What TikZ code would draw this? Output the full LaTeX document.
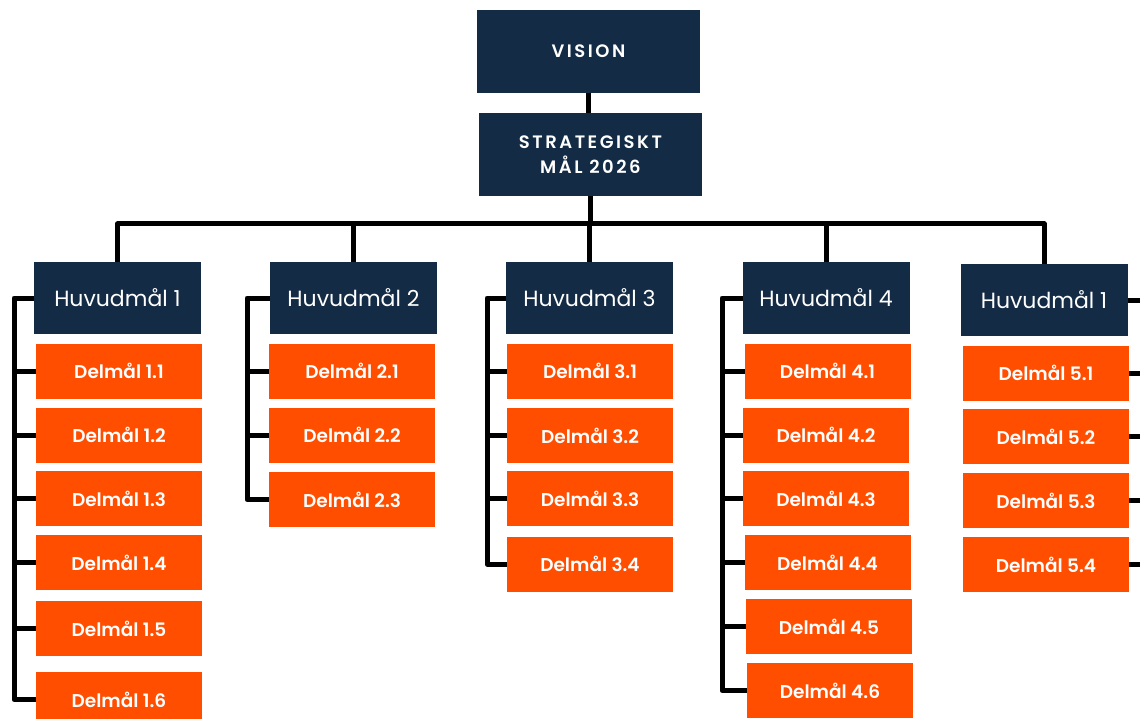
\documentclass[tikz,border=0pt]{standalone}
\usepackage{fontspec}
\setmainfont{Poppins}
\IfFontExistsTF{Poppins SemiBold}{\newfontfamily\subfont{Poppins SemiBold}}{\newfontfamily\subfontx{Poppins}\def\subfont{\subfontx\bfseries}}
\IfFontExistsTF{Poppins SemiBold}{\newfontfamily\capsfont{Poppins SemiBold}[LetterSpace=14]}{\newfontfamily\capsfontx{Poppins}[LetterSpace=14]\def\capsfont{\capsfontx\bfseries}}
\usetikzlibrary{calc}
\definecolor{navy}{HTML}{142B45}
\definecolor{orng}{HTML}{FF4E00}
\tikzset{
  topbox/.style={fill=navy, text=white, minimum width=223pt, minimum height=83pt, inner sep=0pt, outer sep=0pt, align=center, font=\capsfont\fontsize{18}{25}\selectfont},
  mainbox/.style={fill=navy, text=white, minimum width=167pt, minimum height=72pt, inner sep=0pt, outer sep=0pt, font=\fontsize{22}{24}\selectfont},
  subbox/.style={fill=orng, text=white, minimum width=166pt, minimum height=55pt, inner sep=0pt, outer sep=0pt, font=\subfont\fontsize{18.5}{21}\selectfont},
  conn/.style={draw=black, line width=5pt, line join=round}
}
\begin{document}
\begin{tikzpicture}[x=1pt,y=-1pt]
\useasboundingbox (0,0) rectangle (1140,719);
\clip (0,0) rectangle (1140,719);
\fill[white] (0,0) rectangle (1140,719);
% top
\node[topbox] (vision) at (588.5,51.5) {VISION};
\node[topbox] (strat) at (590.5,155) {STRATEGISKT\\MÅL 2026};
% main goals
\node[mainbox] (h1) at (117.5,298) {Huvudmål 1};
\node[mainbox] (h2) at (353.5,298) {Huvudmål 2};
\node[mainbox] (h3) at (589.5,298) {Huvudmål 3};
\node[mainbox] (h4) at (826,298) {Huvudmål 4};
\node[mainbox] (h5) at (1044,300) {Huvudmål 1};
% sub goals 1
\node[subbox] (d11) at (119,371) {Delmål 1.1};
\node[subbox] (d12) at (119,435) {Delmål 1.2};
\node[subbox] (d13) at (119,498.5) {Delmål 1.3};
\node[subbox] (d14) at (119,562.5) {Delmål 1.4};
\node[subbox] (d15) at (119,628.5) {Delmål 1.5};
\node[subbox] (d16) at (119,699.5) {Delmål 1.6};
% 2
\node[subbox] (d21) at (352,371) {Delmål 2.1};
\node[subbox] (d22) at (352,435) {Delmål 2.2};
\node[subbox] (d23) at (352,499.5) {Delmål 2.3};
% 3
\node[subbox] (d31) at (590,371) {Delmål 3.1};
\node[subbox] (d32) at (590,435.5) {Delmål 3.2};
\node[subbox] (d33) at (590,498.5) {Delmål 3.3};
\node[subbox] (d34) at (590,564) {Delmål 3.4};
% 4
\node[subbox] (d41) at (827.5,371) {Delmål 4.1};
\node[subbox] (d42) at (826,435) {Delmål 4.2};
\node[subbox] (d43) at (826,498.5) {Delmål 4.3};
\node[subbox] (d44) at (827.5,562.5) {Delmål 4.4};
\node[subbox] (d45) at (829,626.5) {Delmål 4.5};
\node[subbox] (d46) at (830,690.5) {Delmål 4.6};
% 5
\node[subbox] (d51) at (1046,373) {Delmål 5.1};
\node[subbox] (d52) at (1046,436.5) {Delmål 5.2};
\node[subbox] (d53) at (1046,500.5) {Delmål 5.3};
\node[subbox] (d54) at (1046,564.5) {Delmål 5.4};
% connectors top
\coordinate (bus) at (0,224);
\draw[conn] (vision.south) -- (vision.south |- strat.north);
\foreach \h in {h1,h2,h3,h4,h5}{
  \draw[conn] (strat.south) -- (strat.south |- bus) -| (\h.north);
}
% left brackets
\coordinate (l1) at (14,0);
\coordinate (l2) at (247,0);
\coordinate (l3) at (487,0);
\coordinate (l4) at (722,0);
\coordinate (r5) at (1141,0);
\draw[conn] (h1.west) -- (h1.west -| l1) |- (d16.west);
\foreach \d in {d11,d12,d13,d14,d15}{\draw[conn] (\d.west) -- (\d.west -| l1);}
\draw[conn] (h2.west) -- (h2.west -| l2) |- (d23.west);
\foreach \d in {d21,d22}{\draw[conn] (\d.west) -- (\d.west -| l2);}
\draw[conn] (h3.west) -- (h3.west -| l3) |- (d34.west);
\foreach \d in {d31,d32,d33}{\draw[conn] (\d.west) -- (\d.west -| l3);}
\draw[conn] (h4.west) -- (h4.west -| l4) |- (d46.west);
\foreach \d in {d41,d42,d43,d44,d45}{\draw[conn] (\d.west) -- (\d.west -| l4);}
\foreach \d in {h5,d51,d52,d53,d54}{\draw[conn] (\d.east) -- (\d.east -| r5);}
\end{tikzpicture}
\end{document}
